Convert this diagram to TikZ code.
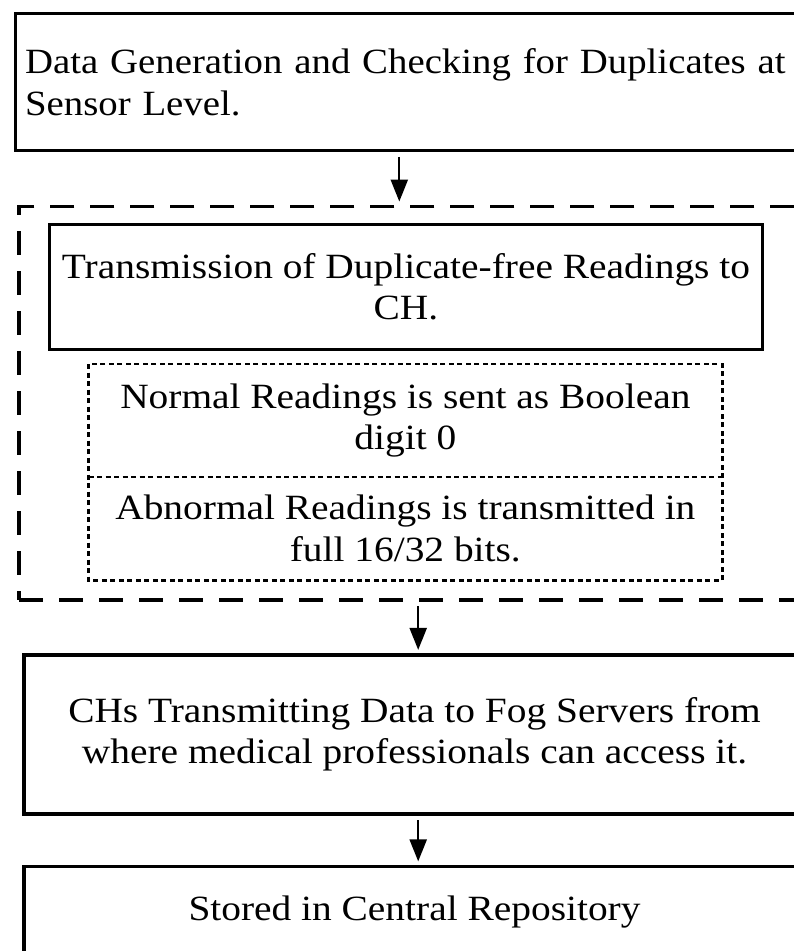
\documentclass[tikz,border=0pt]{standalone}
\usepackage{fontspec}
\setmainfont{Liberation Serif}[FakeStretch=1.11]
\newfontfamily\headserif{Liberation Serif}[FakeStretch=1.093]
\usetikzlibrary{arrows.meta}
\begin{document}
\begin{tikzpicture}[x=1pt,y=-1pt,
  txt/.style={font=\fontsize{35.5pt}{41.5pt}\selectfont, inner sep=0pt},
  solidbox/.style={txt, draw, line width=3.2pt, rectangle, align=center},
  groupbox/.style={draw, line width=3.3pt, dash pattern=on 24pt off 16pt, inner sep=0pt},
  dotline/.style={line width=2.7pt, dash pattern=on 5pt off 3.5pt},
  flow/.style={line width=2.3pt, -{Triangle[width=17pt,length=22pt]},
    shorten <=4.5pt, shorten >=3.5pt}
]
\useasboundingbox (0,0) rectangle (794,951);
\clip (0,0) rectangle (794,951);

% sensor stage
\node[txt, font=\headserif\fontsize{35.5pt}{41.5pt}\selectfont, draw, line width=3.2pt,
      text width=778pt, align=left, inner xsep=9.5pt,
      minimum height=137.4pt, anchor=west] (gen) at (14,82)
  {Data Generation and Checking for Duplicates at\\Sensor Level.};

% cluster-head stage, grouped in a dashed frame
\node[groupbox, minimum width=791pt, minimum height=393.3pt] (group) at (414.5,403.35) {};
\node[solidbox, minimum width=713.4pt, minimum height=125pt] (trans) at (406,286.8)
  {Transmission of Duplicate-free Readings to\\CH.};
\node[txt, align=center, minimum width=633.3pt, minimum height=112.4pt] (normal) at (405.35,420.5)
  {Normal Readings is sent as Boolean\\digit 0};
\node[txt, align=center, minimum width=633.3pt, minimum height=103.3pt] (abnormal) at (405.35,528.35)
  {Abnormal Readings is transmitted in\\full 16/32 bits.};
\draw[dotline] (normal.north west) rectangle (abnormal.south east);
\draw[dotline] (normal.south west) -- (normal.south east);

% fog and storage stages
\node[solidbox, minimum width=781pt, minimum height=159pt] (fog) at (414.5,734.5)
  {CHs Transmitting Data to Fog Servers from\\where medical professionals can access it.};
\node[solidbox, minimum width=781pt, minimum height=91pt] (repo) at (414.5,912)
  {Stored in Central Repository};

% connectors
\coordinate (c1) at (399.3,0);
\coordinate (c2) at (418.2,0);
\draw[flow] (gen.south -| c1) -- (group.north -| c1);
\draw[flow] (group.south -| c2) -- (fog.north -| c2);
\draw[flow] (fog.south -| c2) -- (repo.north -| c2);
\end{tikzpicture}
\end{document}
